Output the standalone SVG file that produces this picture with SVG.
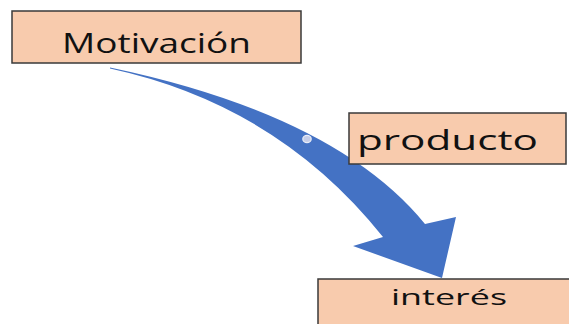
<svg xmlns="http://www.w3.org/2000/svg" width="569" height="324" viewBox="0 0 569 324">
  <style>
    .box { fill: #F8CBAD; stroke: #3a3a3a; stroke-width: 1.5; }
    .label { font-family: "Open Sans", "Liberation Sans", sans-serif; fill: #111; }
    .arrow { fill: #4472C4; }
  </style>
  <rect width="569" height="324" fill="#ffffff"/>

  <!-- curved block arrow -->
  <g id="connectors">
    <path class="arrow" d="M110,67.5 Q336,115 425,224 L456,217 L442,278 L353,246 L383,237 Q278,105 110,68.5 Z"/>
    <ellipse cx="307" cy="139" rx="4.2" ry="3.6" fill="#c5cde8" stroke="#e8ecf7" stroke-width="1.2"/>
  </g>

  <g id="node-motivacion">
    <rect class="box" x="12" y="11" width="289" height="52"/>
    <text class="label" x="62" y="53" font-size="27" textLength="189" lengthAdjust="spacingAndGlyphs">Motivación</text>
  </g>

  <g id="node-producto">
    <rect class="box" x="349" y="113" width="217" height="51"/>
    <text class="label" x="357" y="150" font-size="27" textLength="181" lengthAdjust="spacingAndGlyphs">producto</text>
  </g>

  <g id="node-interes">
    <rect class="box" x="318" y="279" width="260" height="60"/>
    <text class="label" x="391" y="305" font-size="21" textLength="116" lengthAdjust="spacingAndGlyphs">interés</text>
  </g>
</svg>
